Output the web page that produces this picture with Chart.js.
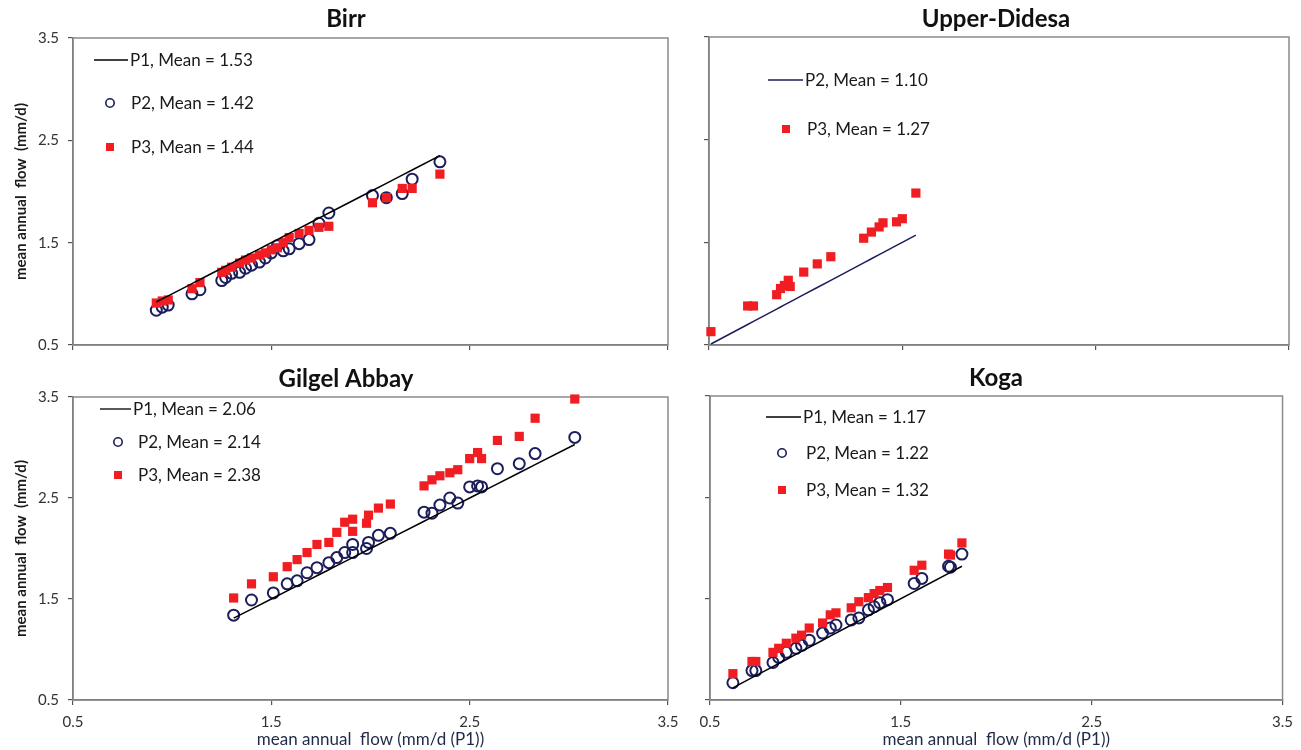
<!DOCTYPE html>
<html>
<head>
<meta charset="utf-8">
<script src="https://cdn.jsdelivr.net/npm/chart.js@4.4.0/dist/chart.umd.min.js"></script>
<style>
  body { margin: 0; background: #fff; }
  #wrap { position: relative; width: 1301px; height: 750px; }
  canvas { position: absolute; left: 0; top: 0; }
</style>
</head>
<body>
<div id="wrap">
  <canvas id="birr" width="1301" height="750"></canvas>
  <canvas id="didesa" width="1301" height="750"></canvas>
  <canvas id="gilgel" width="1301" height="750"></canvas>
  <canvas id="koga" width="1301" height="750"></canvas>
</div>
<script>
// values (x = reference period flow, y = compared period)
const axisTicks = [0.5, 1.5, 2.5, 3.5];

const birrMeans = [1.53, 1.42, 1.44];
const birrP1 = [0.92, 0.95, 0.98, 1.10, 1.14, 1.25, 1.27, 1.30, 1.34, 1.37, 1.40, 1.44, 1.47, 1.50, 1.53, 1.56, 1.59, 1.64, 1.69, 1.74, 1.79, 2.01, 2.08, 2.16, 2.21, 2.35];
const birrP2 = [0.84, 0.87, 0.89, 1.00, 1.04, 1.13, 1.16, 1.20, 1.21, 1.25, 1.28, 1.31, 1.35, 1.40, 1.47, 1.42, 1.44, 1.49, 1.53, 1.69, 1.79, 1.96, 1.94, 1.98, 2.12, 2.29];
const birrP3 = [0.91, 0.93, 0.94, 1.05, 1.11, 1.21, 1.23, 1.26, 1.30, 1.33, 1.35, 1.38, 1.40, 1.43, 1.45, 1.50, 1.55, 1.59, 1.62, 1.65, 1.66, 1.89, 1.94, 2.03, 2.03, 2.17];

const didesaMeans = [1.10, 1.27];
const didesaP2 = [0.51, 0.70, 0.73, 0.85, 0.87, 0.89, 0.91, 0.92, 0.99, 1.06, 1.13, 1.30, 1.34, 1.38, 1.40, 1.47, 1.50, 1.57];
const didesaP3 = [0.63, 0.88, 0.88, 0.99, 1.05, 1.08, 1.13, 1.07, 1.21, 1.29, 1.36, 1.54, 1.60, 1.65, 1.69, 1.70, 1.73, 1.98];

const gilgelMeans = [2.06, 2.14, 2.38];
const gilgelP1 = [1.31, 1.40, 1.51, 1.58, 1.63, 1.68, 1.73, 1.79, 1.83, 1.87, 1.91, 1.91, 1.98, 1.99, 2.04, 2.10, 2.27, 2.31, 2.35, 2.40, 2.44, 2.50, 2.54, 2.56, 2.64, 2.75, 2.83, 3.03];
const gilgelP2 = [1.34, 1.49, 1.56, 1.65, 1.68, 1.76, 1.81, 1.86, 1.91, 1.96, 2.04, 1.96, 2.00, 2.06, 2.13, 2.15, 2.36, 2.35, 2.43, 2.50, 2.45, 2.61, 2.62, 2.61, 2.79, 2.84, 2.94, 3.10];
const gilgelP3 = [1.51, 1.65, 1.72, 1.82, 1.89, 1.96, 2.04, 2.06, 2.16, 2.26, 2.29, 2.17, 2.25, 2.33, 2.40, 2.44, 2.62, 2.68, 2.72, 2.75, 2.78, 2.89, 2.95, 2.89, 3.07, 3.11, 3.29, 3.48];

const kogaMeans = [1.17, 1.22, 1.32];
const kogaP1 = [0.62, 0.72, 0.74, 0.83, 0.86, 0.90, 0.95, 0.98, 1.02, 1.09, 1.13, 1.16, 1.24, 1.28, 1.33, 1.36, 1.39, 1.43, 1.57, 1.61, 1.75, 1.76, 1.82];
const kogaP2 = [0.67, 0.79, 0.79, 0.87, 0.92, 0.97, 1.01, 1.04, 1.09, 1.16, 1.21, 1.24, 1.29, 1.31, 1.39, 1.42, 1.46, 1.49, 1.65, 1.70, 1.82, 1.81, 1.94];
const kogaP3 = [0.76, 0.88, 0.88, 0.97, 1.01, 1.06, 1.11, 1.14, 1.21, 1.26, 1.34, 1.36, 1.41, 1.47, 1.51, 1.55, 1.58, 1.61, 1.78, 1.83, 1.94, 1.93, 2.05];

const W = 1301, H = 750;
const FONT = 'Lato, "Open Sans", sans-serif';
const NAVY = '#1c1d5c';
const RED = '#f01e23';

function meanLabel(name, m) {
  return name + ', Mean = ' + m.toFixed(2);
}

// 1:1 reference line through the x values
function lineSet(xs, name, mean, color) {
  return {
    label: meanLabel(name, mean), kind: 'line',
    data: xs.map(v => ({ x: v, y: v })),
    showLine: true, borderColor: color, borderWidth: 1.5,
    pointRadius: 0, order: 1, clip: false
  };
}

function circleSet(xs, ys, name, mean) {
  return {
    label: meanLabel(name, mean), kind: 'circle',
    data: xs.map((v, i) => ({ x: v, y: ys[i] })),
    pointStyle: 'circle', pointRadius: 5.5, pointBorderWidth: 2,
    pointBorderColor: NAVY, pointBackgroundColor: 'rgba(0,0,0,0)',
    order: 3, clip: false
  };
}

function squareSet(xs, ys, name, mean) {
  return {
    label: meanLabel(name, mean), kind: 'square',
    data: xs.map((v, i) => ({ x: v, y: ys[i] })),
    pointStyle: 'rect', pointRadius: 6.5, pointBorderWidth: 0,
    pointBorderColor: RED, pointBackgroundColor: RED,
    order: 2, clip: false
  };
}

// frame, panel title and the legend that sits inside the plot
const panelDecor = {
  id: 'panelDecor',
  beforeDatasetsDraw(chart) {
    const ctx = chart.ctx, a = chart.chartArea;
    ctx.save();
    ctx.strokeStyle = '#8a8a8a';
    ctx.lineWidth = 1.5;
    ctx.strokeRect(a.left, a.top, a.right - a.left, a.bottom - a.top);
    ctx.restore();
  },
  afterDraw(chart, args, opts) {
    const ctx = chart.ctx;
    ctx.save();
    ctx.fillStyle = '#111';
    ctx.textAlign = 'center';
    ctx.textBaseline = 'middle';
    ctx.font = 'bold 24px ' + FONT;
    ctx.fillText(opts.title, opts.titleX, opts.titleY);

    const lg = opts.legend;
    ctx.font = '17px ' + FONT;
    ctx.textAlign = 'left';
    chart.data.datasets.forEach((ds, i) => {
      const y = lg.rows[i];
      if (ds.kind === 'line') {
        ctx.strokeStyle = ds.borderColor;
        ctx.lineWidth = 1.3;
        ctx.beginPath();
        ctx.moveTo(lg.lineFrom, y);
        ctx.lineTo(lg.lineTo, y);
        ctx.stroke();
      } else if (ds.kind === 'circle') {
        ctx.strokeStyle = NAVY;
        ctx.lineWidth = 1.6;
        ctx.beginPath();
        ctx.arc(lg.markX, y, 4.2, 0, Math.PI * 2);
        ctx.stroke();
      } else {
        ctx.fillStyle = RED;
        ctx.fillRect(lg.markX - 4, y - 4, 8, 8);
      }
      ctx.fillStyle = '#1a1a1a';
      ctx.fillText(ds.label, ds.kind === 'line' ? lg.lineTo + 2 : lg.textX, y + 1);
    });
    ctx.restore();
  }
};

function makePanel(p) {
  const a = p.area;
  const tickFont = { family: FONT, size: 15 };
  return new Chart(document.getElementById(p.id), {
    type: 'scatter',
    data: { datasets: p.datasets },
    options: {
      responsive: false,
      animation: false,
      layout: { padding: { left: 0, top: a.top, right: W - a.right, bottom: 0 } },
      plugins: {
        legend: { display: false },
        tooltip: { enabled: false },
        panelDecor: { title: p.title, titleX: p.titleX, titleY: p.titleY, legend: p.legend }
      },
      scales: {
        x: {
          type: 'linear', min: 0.5, max: 3.5,
          afterBuildTicks: s => { s.ticks = axisTicks.map(v => ({ value: v })); },
          afterFit: s => { s.height = H - a.bottom; },
          ticks: {
            font: tickFont, color: '#333', padding: 8,
            callback: v => p.xLabels ? v.toFixed(1) : ''
          },
          grid: { drawOnChartArea: false, tickLength: 5, color: '#555', lineWidth: 1.2 },
          border: { color: '#666', width: 1.5 },
          title: {
            display: p.xLabels, text: 'mean annual  flow (mm/d (P1))',
            font: { family: FONT, size: 17 }, color: '#1f2a48',
            padding: { top: 0, bottom: 0 }
          }
        },
        y: {
          type: 'linear', min: 0.5, max: 3.5,
          afterBuildTicks: s => { s.ticks = axisTicks.map(v => ({ value: v })); },
          afterFit: s => { s.width = a.left; },
          ticks: {
            font: tickFont, color: '#333', padding: 9,
            callback: v => p.yLabels ? v.toFixed(1) : ''
          },
          grid: { drawOnChartArea: false, tickLength: 5, color: '#555', lineWidth: 1.2 },
          border: { color: '#666', width: 1.5 },
          title: {
            display: p.yLabels, text: 'mean annual  flow  (mm/d)',
            font: { family: FONT, size: 15, weight: 'bold' }, color: '#1a1a1a',
            padding: { top: 12, bottom: 0 }
          }
        }
      }
    },
    plugins: [panelDecor]
  });
}

makePanel({
  id: 'birr', title: 'Birr', titleX: 346, titleY: 19,
  area: { left: 73, top: 38, right: 668, bottom: 345 },
  xLabels: false, yLabels: true,
  legend: { lineFrom: 94, lineTo: 128, markX: 110, textX: 131, rows: [60, 103, 147] },
  datasets: [
    lineSet(birrP1, 'P1', birrMeans[0], '#000'),
    circleSet(birrP1, birrP2, 'P2', birrMeans[1]),
    squareSet(birrP1, birrP3, 'P3', birrMeans[2])
  ]
});

makePanel({
  id: 'didesa', title: 'Upper-Didesa', titleX: 996, titleY: 19,
  area: { left: 709, top: 37, right: 1289, bottom: 345 },
  xLabels: false, yLabels: false,
  legend: { lineFrom: 768, lineTo: 803, markX: 786, textX: 807, rows: [80, 129] },
  datasets: [
    lineSet(didesaP2, 'P2', didesaMeans[0], NAVY),
    squareSet(didesaP2, didesaP3, 'P3', didesaMeans[1])
  ]
});

makePanel({
  id: 'gilgel', title: 'Gilgel Abbay', titleX: 346, titleY: 379,
  area: { left: 73, top: 397, right: 668, bottom: 700 },
  xLabels: true, yLabels: true,
  legend: { lineFrom: 100, lineTo: 131, markX: 118, textX: 138, rows: [409, 442, 475] },
  datasets: [
    lineSet(gilgelP1, 'P1', gilgelMeans[0], '#000'),
    circleSet(gilgelP1, gilgelP2, 'P2', gilgelMeans[1]),
    squareSet(gilgelP1, gilgelP3, 'P3', gilgelMeans[2])
  ]
});

makePanel({
  id: 'koga', title: 'Koga', titleX: 996, titleY: 378,
  area: { left: 710, top: 396, right: 1290, bottom: 700 },
  xLabels: true, yLabels: false,
  legend: { lineFrom: 766, lineTo: 801, markX: 782, textX: 806, rows: [417, 453, 490] },
  datasets: [
    lineSet(kogaP1, 'P1', kogaMeans[0], '#000'),
    circleSet(kogaP1, kogaP2, 'P2', kogaMeans[1]),
    squareSet(kogaP1, kogaP3, 'P3', kogaMeans[2])
  ]
});
</script>
</body>
</html>
